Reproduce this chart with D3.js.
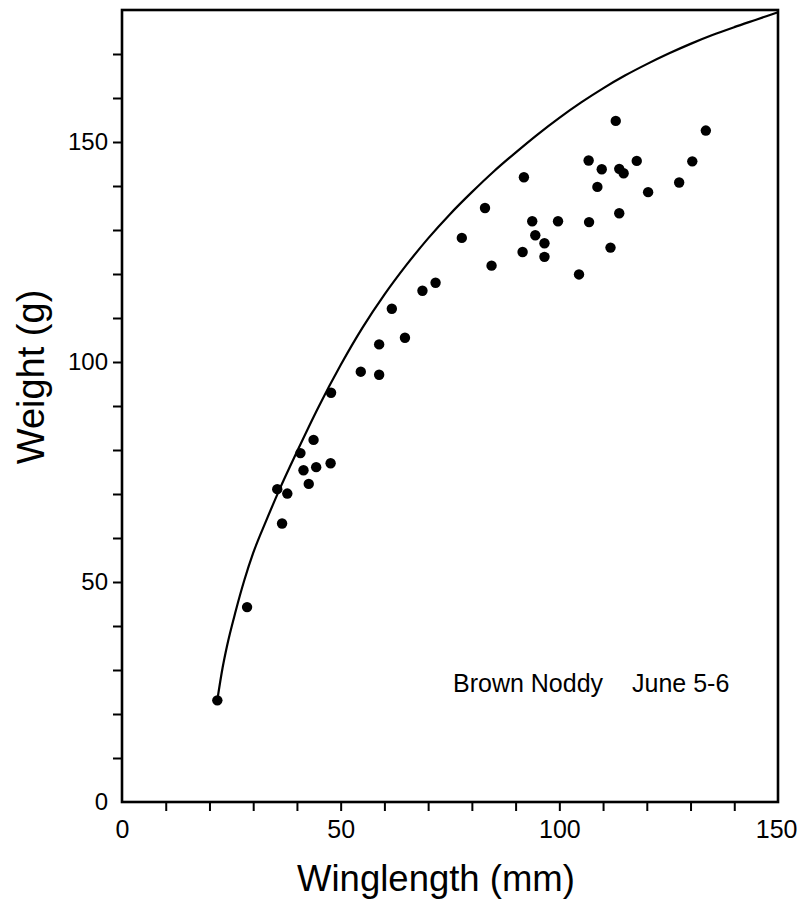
<!DOCTYPE html>
<html>
<head>
<meta charset="utf-8">
<script src="https://cdn.jsdelivr.net/npm/d3@7"></script>
<style>
  html, body { margin: 0; padding: 0; background: #fff; }
  svg { display: block; }
  text { font-family: "Liberation Sans", Arial, Helvetica, sans-serif; fill: #000; }
</style>
</head>
<body>
<svg id="chart" width="797" height="901"></svg>
<script>
// Observed chicks: winglength (mm) and weight (g)
const wingLength = [21.8, 28.6, 35.5, 36.6, 37.8, 40.8, 41.5, 42.7, 43.8, 44.4, 47.7, 47.8,
  54.6, 58.8, 58.8, 61.7, 64.7, 68.7, 71.7, 77.7, 83.0, 84.5, 91.6, 91.9, 93.8, 94.5,
  96.6, 96.6, 99.7, 104.5, 106.7, 106.8, 108.7, 109.7, 111.7, 112.9, 113.7, 113.7,
  114.7, 117.7, 120.3, 127.4, 130.4, 133.5];
const weight = [23.1, 44.3, 71.1, 63.3, 70.1, 79.3, 75.4, 72.3, 82.3, 76.1, 77.0, 93.0,
  97.8, 97.1, 104.0, 112.1, 105.5, 116.2, 118.0, 128.2, 135.0, 121.9, 125.0, 142.0, 132.0, 128.8,
  127.0, 123.9, 132.0, 119.9, 145.8, 131.8, 139.8, 143.8, 126.0, 154.8, 133.8, 143.9,
  142.9, 145.7, 138.6, 140.8, 145.6, 152.6];

// Reference curve
const curveWing = [21.8, 23, 24, 26, 28, 30, 33, 36, 40, 45, 50, 55, 60, 65, 70, 75, 80, 85,
  90, 95, 100, 105, 110, 115, 120, 125, 130, 135, 140, 145, 150];
const curveWeight = [23.2, 30.5, 35.4, 43.4, 50.5, 56.6, 64.0, 71.0, 79.6, 89.9, 99.3, 107.8,
  115.3, 122.0, 128.1, 133.6, 138.6, 143.3, 147.6, 151.7, 155.5, 159.0, 162.2, 165.1, 167.7,
  170.1, 172.3, 174.3, 176.1, 177.8, 179.5];

const xTickValues = [10, 20, 30, 40, 50, 60, 70, 80, 90, 100, 110, 120, 130, 140];
const yTickValues = [10, 20, 30, 40, 50, 60, 70, 80, 90, 100, 110, 120, 130, 140, 150, 160, 170];
const xTickLabels = [0, 50, 100, 150];
const yTickLabels = [0, 50, 100, 150];

const xTitle = "Winglength (mm)";
const yTitle = "Weight (g)";
const annotationA = "Brown Noddy";
const annotationB = "June 5-6";

const svg = d3.select("#chart");
const x = d3.scaleLinear().domain([0, 150]).range([122, 778]);
const y = d3.scaleLinear().domain([0, 180]).range([802, 10]);

// X axis ticks
const xAxis = d3.axisBottom(x)
  .tickValues(Array.from(new Set(xTickValues.concat(xTickLabels))).sort((a, b) => a - b))
  .tickSize(9)
  .tickPadding(9)
  .tickFormat(d => xTickLabels.includes(d) ? d : "");
const gx = svg.append("g").attr("transform", `translate(0,${y(0)})`).call(xAxis);
gx.select(".domain").remove();
gx.selectAll(".tick line").attr("stroke", "#000").attr("stroke-width", 2)
  .filter(d => d === 0 || d === 150).remove();
gx.selectAll(".tick text").attr("font-size", 25).attr("font-family", "Liberation Sans, Arial, sans-serif")
  .filter(d => d === 150).attr("text-anchor", "end").attr("x", 19);

// Y axis ticks
const yAxis = d3.axisLeft(y)
  .tickValues(Array.from(new Set(yTickValues.concat(yTickLabels))).sort((a, b) => a - b))
  .tickSize(9)
  .tickPadding(5)
  .tickFormat(d => yTickLabels.includes(d) ? d : "");
const gy = svg.append("g").attr("transform", `translate(${x(0)},0)`).call(yAxis);
gy.select(".domain").remove();
gy.selectAll(".tick line").attr("stroke", "#000").attr("stroke-width", 2)
  .filter(d => d === 0).remove();
gy.selectAll(".tick text").attr("font-size", 24).attr("font-family", "Liberation Sans, Arial, sans-serif");

// Frame
svg.append("rect")
  .attr("x", x(0)).attr("y", y(180))
  .attr("width", x(150) - x(0)).attr("height", y(0) - y(180))
  .attr("fill", "none").attr("stroke", "#000").attr("stroke-width", 2.6);

// Curve
const curvePts = curveWing.map((w, i) => [w, curveWeight[i]]);
svg.append("path")
  .datum(curvePts)
  .attr("d", d3.line().x(d => x(d[0])).y(d => y(d[1])).curve(d3.curveMonotoneX))
  .attr("fill", "none").attr("stroke", "#000").attr("stroke-width", 2.2);

// Points
const pts = wingLength.map((w, i) => ({ w, g: weight[i] }));
svg.append("g").selectAll("circle").data(pts).join("circle")
  .attr("cx", d => x(d.w)).attr("cy", d => y(d.g)).attr("r", 5.2).attr("fill", "#000");

// Annotation
const ann = svg.append("text").attr("y", 692).attr("font-size", 25);
ann.append("tspan").attr("x", 453).text(annotationA);
ann.append("tspan").attr("x", 632).text(annotationB);

// Axis titles
svg.append("text")
  .attr("x", 436).attr("y", 891)
  .attr("text-anchor", "middle")
  .attr("font-size", 36.5)
  .text(xTitle);

svg.append("text")
  .attr("transform", `translate(44,377) rotate(-90)`)
  .attr("text-anchor", "middle")
  .attr("font-size", 38)
  .text(yTitle);
</script>
</body>
</html>
